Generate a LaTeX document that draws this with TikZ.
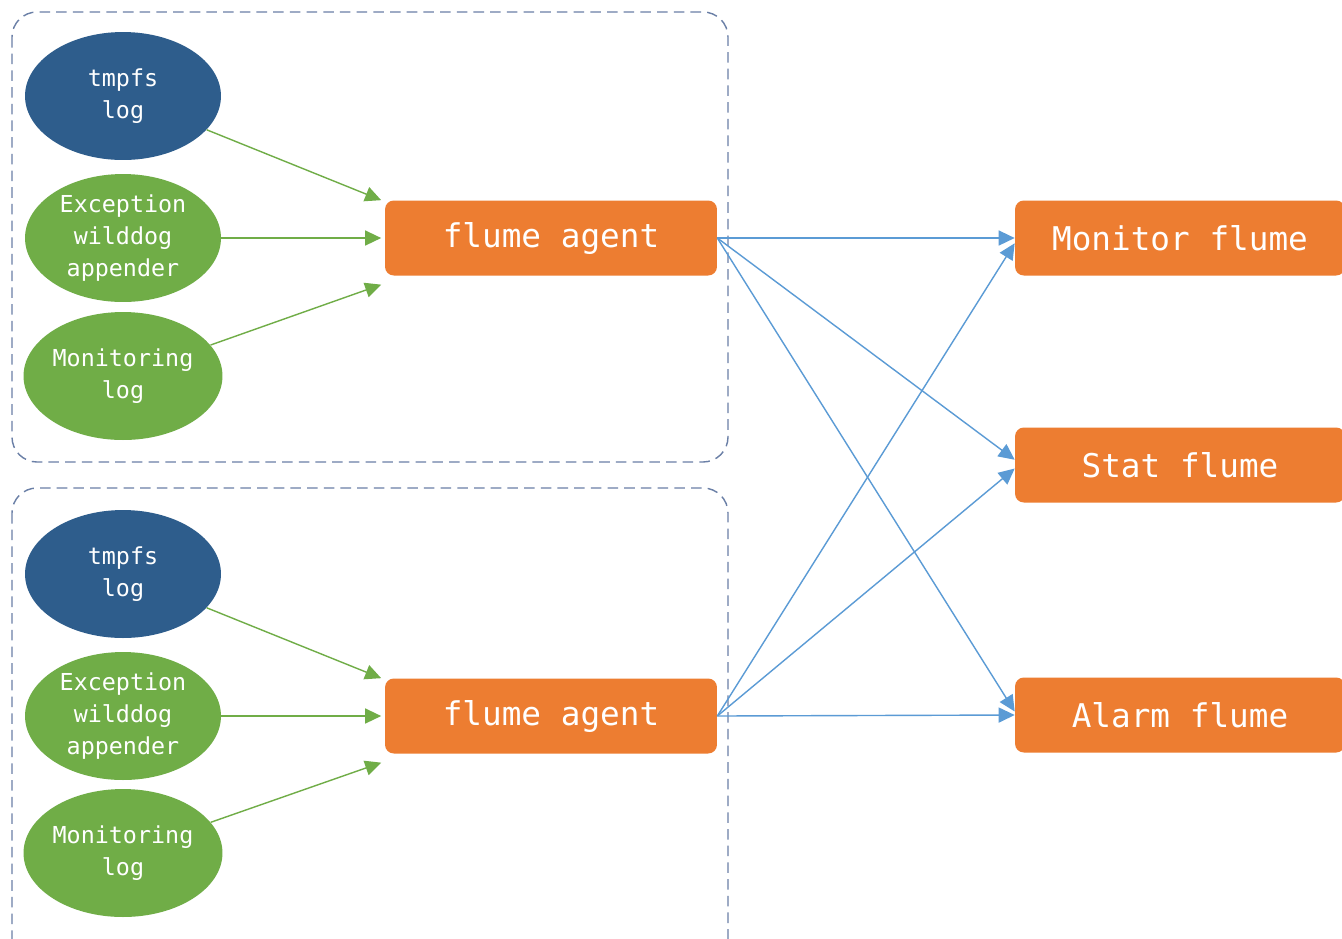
\documentclass[tikz,border=0pt]{standalone}
\usepackage{fontspec}
\setmonofont{DejaVu Sans Mono}
\usetikzlibrary{shapes.geometric,arrows.meta}

\definecolor{tmpblue}{HTML}{2E5D8C}
\definecolor{loggreen}{HTML}{70AD47}
\definecolor{flumeorange}{HTML}{ED7D31}
\definecolor{linkblue}{HTML}{5B9BD5}
\definecolor{groupgray}{HTML}{6A7FA6}

\tikzset{
    logsrc/.style={ellipse, minimum width=3.92cm, minimum height=2.56cm, inner sep=0pt,
        align=center, text=white, font=\ttfamily\fontsize{13.3}{18.2}\selectfont},
    flumebox/.style={rectangle, rounded corners=5pt, fill=flumeorange, text=white,
        minimum width=6.64cm, minimum height=1.5cm, font=\ttfamily\fontsize{18.6}{22}\selectfont},
    group/.style={draw=groupgray, dash pattern=on 6pt off 3.5pt, rounded corners=0.5cm, line width=0.8pt},
    feed/.style={draw=loggreen, line width=0.8pt, -{Triangle[length=0.32cm,width=0.3cm]}},
    link/.style={draw=linkblue, line width=0.8pt, -{Triangle[length=0.32cm,width=0.3cm]}}
}

\begin{document}
\begin{tikzpicture}[x=0.02cm, y=-0.02cm]
    \useasboundingbox (0,0) rectangle (1342,938);
    \fill[white] (0,0) rectangle (1342,938);

    \draw[group] (12,12) rectangle (728,462);
    \draw[group] (12,488) rectangle (728,980);

    % first host
    \node[logsrc, fill=tmpblue] (tmpfsA) at (123,96) {tmpfs\\log};
    \node[logsrc, fill=loggreen] (excA) at (123,238) {Exception\\wilddog\\appender};
    \node[logsrc, fill=loggreen] (monA) at (123,376) {Monitoring\\log};
    \node[flumebox] (agentA) at (551,238) {flume agent};

    % second host
    \node[logsrc, fill=tmpblue] (tmpfsB) at (123,574) {tmpfs\\log};
    \node[logsrc, fill=loggreen] (excB) at (123,716) {Exception\\wilddog\\appender};
    \node[logsrc, fill=loggreen] (monB) at (123,853) {Monitoring\\log};
    \node[flumebox] (agentB) at (551,716) {flume agent};

    % collectors
    \node[flumebox, minimum width=6.6cm] (monitor) at (1180,238) {Monitor flume};
    \node[flumebox, minimum width=6.6cm] (stat) at (1180,465) {Stat flume};
    \node[flumebox, minimum width=6.6cm] (alarm) at (1180,715) {Alarm flume};

    \draw[feed] (tmpfsA) -- ([xshift=-2pt]agentA.north west);
    \draw[feed] (excA) -- ([xshift=-2pt]agentA.west);
    \draw[feed] (monA) -- ([xshift=-2pt,yshift=-5pt]agentA.south west);
    \draw[feed] (tmpfsB) -- ([xshift=-2pt]agentB.north west);
    \draw[feed] (excB) -- ([xshift=-2pt]agentB.west);
    \draw[feed] (monB) -- ([xshift=-2pt,yshift=-5pt]agentB.south west);

    \draw[link] (agentA.east) -- (monitor.west);
    \draw[link] (agentA.east) -- ([yshift=3pt]stat.west);
    \draw[link] (agentA.east) -- ([yshift=2pt]alarm.west);
    \draw[link] (agentB.east) -- ([yshift=-3pt]monitor.west);
    \draw[link] (agentB.east) -- ([yshift=-2pt]stat.west);
    \draw[link] (agentB.east) -- (alarm.west);
\end{tikzpicture}
\end{document}
